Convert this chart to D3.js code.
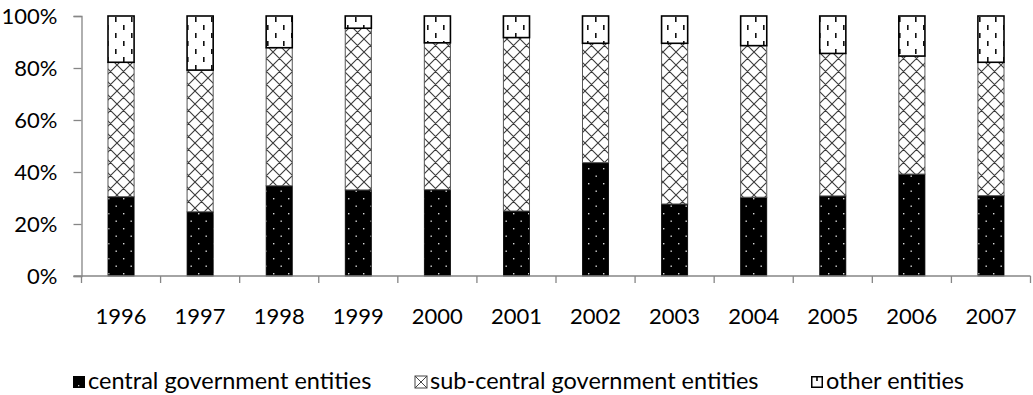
<!DOCTYPE html>
<html>
<head>
<meta charset="utf-8">
<script src="https://cdn.jsdelivr.net/npm/d3@7/dist/d3.min.js"></script>
<style>
html,body{margin:0;padding:0;background:#fff;}
svg{display:block;font-family:Lato,"Open Sans",sans-serif;}
</style>
</head>
<body>
<svg id="chart" width="1033" height="395"></svg>
<script>
const years = ["1996","1997","1998","1999","2000","2001","2002","2003","2004","2005","2006","2007"];
const central = [30.5, 24.7, 34.7, 33.1, 33.2, 25.0, 43.6, 27.7, 30.3, 30.8, 39.2, 30.9];
const subCentral = [51.7, 54.5, 53.1, 62.2, 56.5, 66.7, 45.9, 61.8, 58.3, 54.8, 45.4, 51.3];
const other = [17.8, 20.8, 12.2, 4.7, 10.3, 8.3, 10.5, 10.5, 11.4, 14.4, 15.4, 17.8];
const seriesNames = ["central government entities","sub-central government entities","other entities"];
const yTicks = [0, 20, 40, 60, 80, 100];

const svg = d3.select("#chart");
const defs = svg.append("defs");

// central: black with light dots
const p1 = defs.append("pattern").attr("id","pCentral").attr("patternUnits","userSpaceOnUse")
  .attr("width",15).attr("height",15);
p1.append("rect").attr("width",15).attr("height",15).attr("fill","#000");
p1.append("rect").attr("x",3).attr("y",3).attr("width",1.4).attr("height",1.4).attr("fill","#d8d8d8");
p1.append("rect").attr("x",10.5).attr("y",10.5).attr("width",1.4).attr("height",1.4).attr("fill","#d8d8d8");

// sub-central: crosshatch
const p2 = defs.append("pattern").attr("id","pSub").attr("patternUnits","userSpaceOnUse")
  .attr("width",13).attr("height",13);
p2.append("rect").attr("width",13).attr("height",13).attr("fill","#fff");
p2.append("path").attr("d","M0,0L13,13M13,0L0,13M-1,12L1,14M12,-1L14,1M-1,1L1,-1M12,14L14,12")
  .attr("stroke","#3a3a3a").attr("stroke-width",1.1).attr("fill","none");

// other: vertical dashes
const p3 = defs.append("pattern").attr("id","pOther").attr("patternUnits","userSpaceOnUse")
  .attr("width",16).attr("height",16);
p3.append("rect").attr("width",16).attr("height",16).attr("fill","#fff");
p3.append("rect").attr("x",3).attr("y",1).attr("width",1.6).attr("height",5).attr("fill","#111");
p3.append("rect").attr("x",11).attr("y",9).attr("width",1.6).attr("height",5).attr("fill","#111");

const x0 = 81.5, x1 = 1030.5, yTop = 16, yBot = 276;
const x = d3.scaleBand().domain(years).range([x0, x1]).paddingInner(0).paddingOuter(0);
const y = d3.scaleLinear().domain([0, 100]).range([yBot, yTop]);
const barW = x.bandwidth() * 0.33;

const data = years.map((yr, i) => ({yr, c: central[i], s: subCentral[i], o: other[i]}));

const axisColor = "#868686";

// bars
const g = svg.append("g");
data.forEach(d => {
  const bx = x(d.yr) + x.bandwidth()/2 - barW/2;
  const total = d.c + d.s + d.o;
  const c = d.c / total * 100, s = d.s / total * 100;
  g.append("rect").attr("x", bx).attr("y", y(c)).attr("width", barW).attr("height", y(0) - y(c))
    .attr("fill","url(#pCentral)").attr("stroke","#000").attr("stroke-width",0.8);
  g.append("rect").attr("x", bx).attr("y", y(c + s)).attr("width", barW).attr("height", y(c) - y(c + s))
    .attr("fill","url(#pSub)").attr("stroke","#555").attr("stroke-width",1);
  g.append("rect").attr("x", bx).attr("y", y(100)).attr("width", barW).attr("height", y(c + s) - y(100))
    .attr("fill","url(#pOther)").attr("stroke","#000").attr("stroke-width",1.6);
});

// y axis
const yAxis = d3.axisLeft(y).tickValues(yTicks).tickFormat(d => d + "%").tickSize(8).tickPadding(16);
const ya = svg.append("g").attr("transform", `translate(${x0},0)`).call(yAxis);
ya.select(".domain").attr("stroke", axisColor).attr("stroke-width",1.3);
ya.selectAll(".tick line").attr("stroke", axisColor).attr("stroke-width",1.3);
ya.selectAll(".tick text").attr("fill","#000").style("font-size","22px").style("font-family","Lato, sans-serif");

// x axis with boundary ticks
const xa = svg.append("g").attr("transform", `translate(0,${yBot})`);
xa.append("line").attr("x1", x0 - 8).attr("x2", x1).attr("y1", 0).attr("y2", 0)
  .attr("stroke", axisColor).attr("stroke-width",1.3);
const bounds = years.map(yr => x(yr)).concat([x1]);
xa.selectAll("line.b").data(bounds).join("line").attr("class","b")
  .attr("x1", d => d).attr("x2", d => d).attr("y1", 0).attr("y2", 7)
  .attr("stroke", axisColor).attr("stroke-width",1.3);
xa.selectAll("text").data(years).join("text")
  .attr("x", d => x(d) + x.bandwidth()/2).attr("y", 48)
  .attr("text-anchor","middle").style("font-size","22px").text(d => d);

// legend
const legendItems = [
  {name: seriesNames[0], key: "c", x: 73},
  {name: seriesNames[1], key: "s", x: 415},
  {name: seriesNames[2], key: "o", x: 811}
];
const lg = svg.append("g");
legendItems.forEach(it => {
  const sq = lg.append("g").attr("transform", `translate(${it.x},376)`);
  if (it.key === "c") {
    sq.append("rect").attr("width", 12).attr("height", 12).attr("fill", "#000");
    sq.append("rect").attr("x", 5).attr("y", 9).attr("width", 1.3).attr("height", 1.3).attr("fill", "#ccc");
  } else if (it.key === "s") {
    sq.append("rect").attr("width", 12).attr("height", 12).attr("fill", "#fff").attr("stroke", "#444").attr("stroke-width", 1);
    sq.append("path").attr("d", "M0,0L12,12M12,0L0,12").attr("stroke", "#444").attr("stroke-width", 1);
  } else {
    sq.append("rect").attr("x", 0.75).attr("y", 0.75).attr("width", 10.5).attr("height", 10.5).attr("fill", "#fff").attr("stroke", "#000").attr("stroke-width", 1.5);
    sq.append("rect").attr("x", 5.2).attr("y", 1).attr("width", 1.6).attr("height", 4).attr("fill", "#000");
  }
  lg.append("text").attr("x", it.x + 15).attr("y", 389).style("font-size","23.5px").text(it.name);
});
</script>
</body>
</html>
